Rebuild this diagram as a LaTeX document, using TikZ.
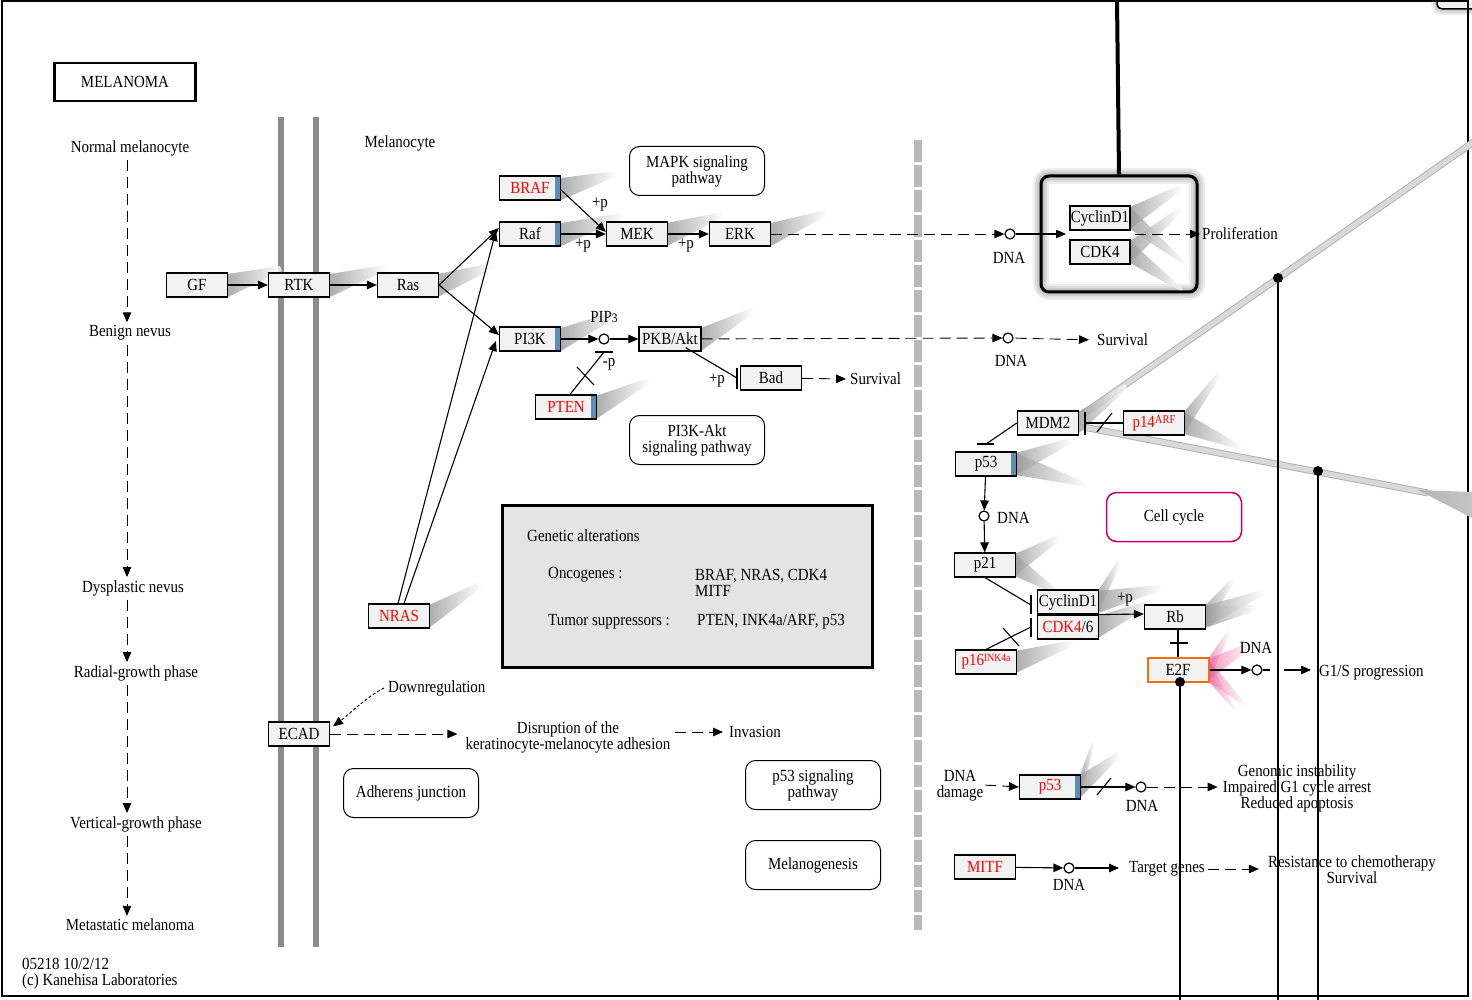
\documentclass[tikz,border=0pt]{standalone}
\usepackage{fontspec}
\setmainfont{Liberation Serif}[FakeStretch=0.88]
\usetikzlibrary{arrows.meta}
\definecolor{genefill}{HTML}{F2F2F2}
\definecolor{boxfill}{HTML}{E4E4E4}
\definecolor{kred}{HTML}{FF0000}
\definecolor{markblue}{HTML}{5B8DB8}
\definecolor{membr}{HTML}{8C8C8C}
\definecolor{cellmag}{HTML}{CC0066}
\definecolor{e2forange}{HTML}{F07010}
\definecolor{fanpink}{HTML}{E8559A}
% gradient wedges trailing from the right edge of a gene box
\newcommand{\kfan}[5]{\shade[left color=gray!80, right color=white, opacity=0.8] (#1,#2) -- (#4,#5) -- ({#4+2},{#5+5}) -- (#1,#3) -- cycle;}
\newcommand{\pfan}[5]{\shade[left color=fanpink, right color=white, opacity=0.6] (#1,#2) -- (#4,#5) -- ({#4+2},{#5+5}) -- (#1,#3) -- cycle;}
\newcommand{\bluemark}[1]{\fill[markblue] ([xshift=-6pt,yshift=-2pt]#1.north east) rectangle ([xshift=-1pt,yshift=2pt]#1.south east);}
\begin{document}
\begin{tikzpicture}[x=1pt,y=-1pt,
  every node/.style={font=\fontsize{17}{16}\selectfont, inner sep=0pt},
  gene/.style={draw=black, line width=1.2pt, fill=genefill, minimum width=61pt, minimum height=24pt},
  mapbox/.style={draw=black, line width=1pt, rounded corners=10pt, minimum width=135pt, minimum height=49pt, align=center},
  dnac/.style={circle, draw=black, line width=1.2pt, fill=white, minimum size=10pt},
  act/.style={line width=1.1pt, -{Triangle[length=10pt,width=8.5pt]}},
  dsh/.style={line width=0.9pt, dash pattern=on 11pt off 6pt},
  ln/.style={line width=1.1pt},
  hub/.style={line width=2.5pt},
]
\useasboundingbox (0,0) rectangle (1472,1000);
\fill[white] (0,0) rectangle (1472,1000);

% outer frame and the partial box in the corner
\foreach \w in {12,8,4} {\draw[line width=\w pt, black, opacity=0.08, rounded corners=5pt] (1437,-15) rectangle (1490,9);}
\draw[line width=1.5pt, rounded corners=5pt, fill=genefill] (1437,-15) rectangle (1490,9);
\draw[line width=1.5pt] (2,1) rectangle (1468,996);

% title
\node[draw, line width=2.5pt, minimum width=141pt, minimum height=38pt] (title) at (125,82) {MELANOMA};

% progression column
\coordinate (colx) at (127,0);
\node (nm) at (130,148) {Normal melanocyte};
\node (bn) at (130,333) {Benign nevus};
\node (dn) at (133,588) {Dysplastic nevus};
\node (rg) at (136,673) {Radial-growth phase};
\node (vg) at (136,824) {Vertical-growth phase};
\node (mm) at (130,925) {Metastatic melanoma};
\draw[act,dsh,shorten <=4pt,shorten >=3pt] (nm.south -| colx) -- (bn.north -| colx);
\draw[act,dsh,shorten <=4pt,shorten >=3pt] (bn.south -| colx) -- (dn.north -| colx);
\draw[act,dsh,shorten <=4pt,shorten >=3pt] (dn.south -| colx) -- (rg.north -| colx);
\draw[act,dsh,shorten <=4pt,shorten >=3pt] (rg.south -| colx) -- (vg.north -| colx);
\draw[act,dsh,shorten <=4pt,shorten >=3pt] (vg.south -| colx) -- (mm.north -| colx);
\node[anchor=west, align=left] (foot) at (22,974) {05218 10/2/12\\(c) Kanehisa Laboratories};

% membranes
\draw[line width=6pt, membr] (281,117) -- (281,947);
\draw[line width=6pt, membr] (316,117) -- (316,947);
\draw[line width=8pt, gray!55, dash pattern=on 22pt off 3pt] (918,140) -- (918,930);
\node (mel) at (400,143) {Melanocyte};

% grey crossing bands on the right
\draw[line width=7pt, gray!60] (1083,414) -- (1475,141);
\draw[line width=5pt, gray!30] (1083,414) -- (1475,141);
\draw[line width=7pt, gray!60] (1083,427) -- (1428,493);
\draw[line width=5pt, gray!30] (1083,427) -- (1428,493);
\shade[left color=gray!60, right color=gray!45] (1418,490) -- (1472,492) -- (1472,518) -- cycle;

% gradient wedges
\kfan{228}{274}{297}{280}{266}
\kfan{330}{274}{297}{385}{265}
\kfan{438}{274}{297}{492}{263}
\kfan{561}{178}{200}{615}{171}
\kfan{561}{223}{246}{622}{213}
\kfan{667}{223}{246}{722}{212}
\kfan{771}{223}{246}{826}{210}
\kfan{561}{328}{351}{616}{311}
\kfan{701}{328}{351}{752}{308}
\kfan{596}{396}{419}{648}{378}
\kfan{429}{605}{628}{480}{582}
\kfan{1078}{412}{434}{1125}{384}
\kfan{1184}{412}{434}{1218}{372}
\kfan{1184}{412}{434}{1240}{445}
\kfan{1016}{453}{475}{1070}{438}
\kfan{1016}{453}{475}{1085}{482}
\kfan{1015}{554}{576}{1058}{535}
\kfan{1015}{554}{576}{1060}{592}
\kfan{1098}{591}{613}{1118}{560}
\kfan{1098}{591}{613}{1160}{585}
\kfan{1098}{616}{638}{1150}{600}
\kfan{1016}{651}{673}{1072}{640}
\kfan{1205}{606}{628}{1232}{578}
\kfan{1205}{606}{628}{1262}{590}
\kfan{1205}{606}{628}{1255}{605}
\kfan{1080}{775}{798}{1092}{742}
\kfan{1080}{775}{798}{1118}{752}
\pfan{1208}{659}{681}{1228}{630}
\pfan{1208}{659}{681}{1250}{642}
\pfan{1208}{659}{681}{1245}{703}
\pfan{1208}{659}{681}{1235}{708}

% complex box with glow
\foreach \w in {16,12,8,5} {\draw[line width=\w pt, black, opacity=0.07, rounded corners=8pt] (1041,176) rectangle (1197,292);}
\begin{scope}[opacity=0.6]
\kfan{1130}{207}{229}{1180}{185}
\kfan{1130}{207}{229}{1185}{262}
\kfan{1130}{241}{263}{1180}{207}
\kfan{1130}{241}{263}{1182}{288}
\end{scope}
\node[draw, line width=3pt, rounded corners=8pt, minimum width=156pt, minimum height=116pt] (cbox) at (1119,234) {};

% genetic alterations panel
\node[draw, line width=3pt, fill=boxfill, minimum width=370pt, minimum height=162pt] (ga) at (687,586) {};
\node[anchor=west] (gat) at (527,536) {Genetic alterations};
\node[anchor=west] (onc) at (548,575) {Oncogenes :};
\node[anchor=west, align=left] (oncl) at (695,583) {BRAF, NRAS, CDK4\\MITF};
\node[anchor=west] (tsg) at (548,622) {Tumor suppressors :};
\node[anchor=west] (tsgl) at (697,622) {PTEN, INK4a/ARF, p53};

% map boxes
\node[mapbox] (mapk) at (697,171) {MAPK signaling\\pathway};
\node[mapbox] (pi3kmap) at (697,440) {PI3K-Akt\\signaling pathway};
\node[mapbox, draw=cellmag, line width=1.5pt] (ccmap) at (1174,517) {Cell cycle};
\node[mapbox] (adh) at (411,793) {Adherens junction};
\node[mapbox] (p53map) at (813,785) {p53 signaling\\pathway};
\node[mapbox] (melmap) at (813,865) {Melanogenesis};

% gene boxes
\node[gene] (GF) at (197,285) {GF};
\node[gene] (RTK) at (299,285) {RTK};
\node[gene] (Ras) at (408,285) {Ras};
\node[gene, text=kred] (BRAF) at (530,188) {BRAF};
\node[gene] (Raf) at (530,234) {Raf};
\node[gene] (MEK) at (637,234) {MEK};
\node[gene] (ERK) at (740,234) {ERK};
\node[gene] (PI3K) at (530,339) {PI3K};
\node[gene, minimum width=62pt] (PKB) at (670,339) {PKB/Akt};
\node[gene, text=kred] (PTEN) at (566,407) {PTEN};
\node[gene] (Bad) at (771,378) {Bad};
\node[gene, text=kred] (NRAS) at (399,616) {NRAS};
\node[gene] (ECAD) at (299,734) {ECAD};
\node[gene, minimum width=60pt] (CycA) at (1100,218) {CyclinD1};
\node[gene, minimum width=60pt] (CDKA) at (1100,252) {CDK4};
\node[gene] (MDM2) at (1048,423) {MDM2};
\node[gene, text=kred] (p14) at (1154,423) {p14\raisebox{4pt}{\fontsize{12}{12}\selectfont ARF}};
\node[gene] (p53a) at (986,464) {p53};
\node[gene] (p21) at (985,565) {p21};
\node[gene] (CycB) at (1068,602) {CyclinD1};
\node[gene] (CDKB) at (1068,627) {{\color{kred}CDK4}/6};
\node[gene, text=kred] (p16) at (986,662) {p16\raisebox{4pt}{\fontsize{11}{11}\selectfont INK4a}};
\node[gene] (Rb) at (1175,617) {Rb};
\node[gene, draw=e2forange, line width=2pt] (E2F) at (1178,670) {E2F};
\node[gene, text=kred] (p53b) at (1050,787) {p53};
\node[gene, text=kred] (MITF) at (985,867) {MITF};
\bluemark{BRAF}
\bluemark{Raf}
\bluemark{PI3K}
\bluemark{PTEN}
\bluemark{p53a}
\bluemark{p53b}

% small compounds (DNA and PIP3)
\node[dnac] (dnaA) at (1010,234) {};
\node[dnac] (dnaB) at (1008,338) {};
\node[dnac] (dnaC) at (984,516) {};
\node[dnac] (dnaD) at (1257,670) {};
\node[dnac] (dnaE) at (1141,787) {};
\node[dnac] (dnaF) at (1069,868) {};
\node[dnac] (pip) at (604,339) {};
\node (dnaAl) at (1009,258) {DNA};
\node (dnaBl) at (1011,361) {DNA};
\node[anchor=west] (dnaCl) at (997,518) {DNA};
\node (dnaDl) at (1256,648) {DNA};
\node (dnaEl) at (1142,806) {DNA};
\node (dnaFl) at (1069,885) {DNA};
\node (pipl) at (604,317) {PIP{\fontsize{13}{13}\selectfont 3}};

% phenotype labels
\node[anchor=west] (prolif) at (1202,234) {Proliferation};
\node[anchor=west] (surv1) at (850,379) {Survival};
\node[anchor=west] (surv2) at (1097,340) {Survival};
\node[anchor=west] (g1s) at (1319,673) {G1/S progression};
\node[align=center] (dmg) at (960,786) {DNA\\damage};
\node[align=center] (geno) at (1297,788) {Genomic instability\\Impaired G1 cycle arrest\\Reduced apoptosis};
\node[anchor=west] (target) at (1129,869) {Target genes};
\node[align=center] (resist) at (1352,870) {Resistance to chemotherapy\\Survival};
\node[anchor=west] (down) at (388,688) {Downregulation};
\node[align=center] (disr) at (568,737) {Disruption of the\\keratinocyte-melanocyte adhesion};
\node[anchor=west] (inv) at (729,732) {Invasion};

% phosphorylation labels
\node (p1) at (600,205) {+p};
\node (p2) at (583,246) {+p};
\node (p3) at (686,246) {+p};
\node (p4) at (717,381) {+p};
\node (p5) at (1125,600) {+p};
\node (m1) at (609,364) {-p};

% MAPK branch
\draw[act] (GF) -- (RTK);
\draw[act] (RTK) -- (Ras);
\draw[act] (Ras.east) -- ([yshift=6pt]Raf.west);
\draw[act] (Ras.east) -- ([yshift=4pt]PI3K.west);
\draw[act] ([xshift=-1pt]NRAS.north) -- ([xshift=-3pt,yshift=3pt]Raf.west);
\draw[act] ([xshift=5pt]NRAS.north) -- ([xshift=-3pt,yshift=-2pt]PI3K.west);
\draw[act] ([yshift=-2pt]BRAF.east) -- ([yshift=2pt]MEK.west);
\draw[act] (Raf) -- (MEK);
\draw[act] (MEK) -- (ERK);
\draw[act,dsh] (ERK) -- (dnaA);
\coordinate (cin) at (1066,234);
\coordinate (cout) at (1135,234);
\draw[act] (dnaA) -- (cin);
\draw[act,dsh,shorten >=2pt] (cout) -- (prolif.west);

% PI3K branch
\draw[act] (PI3K) -- (pip);
\draw[act] (pip) -- (PKB);
\coordinate (ptenbar) at (604,352);
\draw[ln] ([xshift=4pt]PTEN.north) -- (ptenbar);
\draw[ln] ([xshift=-9pt]ptenbar) -- ([xshift=9pt]ptenbar);
\draw[ln] (577,367) -- (594,385);
\draw[act,dsh] (PKB) -- (dnaB);
\draw[act,dsh,shorten <=2pt,shorten >=8pt] (dnaB) -- (surv2.west);
\coordinate (badbar) at (737,378);
\draw[ln] ([xshift=-16pt,yshift=4pt]PKB.south east) -- (badbar);
\draw[ln] ([yshift=10pt]badbar) -- ([yshift=-11pt]badbar);
\draw[act,dsh,shorten >=4pt] (Bad) -- (surv1.west);

% adhesion
\draw[act, line width=0.9pt, dash pattern=on 3pt off 2pt] ([xshift=-4pt]down.west) .. controls (365,698) and (352,712) .. ([xshift=3pt,yshift=-5pt]ECAD.north east);
\draw[act,dsh,shorten >=8pt] (ECAD.east) -- (ECAD.east -| disr.west);
\draw[act,dsh,shorten <=4pt,shorten >=6pt] (inv.west -| disr.east) -- (inv.west);

% p53 / cell cycle branch
\coordinate (p53bar) at (986,444);
\draw[ln] (MDM2.west) -- (p53bar);
\draw[ln] ([xshift=-9pt]p53bar) -- ([xshift=8pt]p53bar);
\coordinate (mdmbar) at (1085,423);
\draw[ln] (p14.west) -- (mdmbar);
\draw[ln] ([yshift=11pt]mdmbar) -- ([yshift=-12pt]mdmbar);
\draw[ln] (1097,432) -- (1112,413);
\draw[act] (p53a) -- (dnaC);
\draw[act] (dnaC) -- (p21);
\coordinate (cycbar) at (1031,605);
\draw[ln] (p21.south) -- (cycbar);
\draw[ln] ([yshift=10pt]cycbar) -- ([yshift=-9pt]cycbar);
\coordinate (cdkbar) at (1031,627);
\draw[ln] (p16.north) -- (cdkbar);
\draw[ln] ([yshift=9pt]cdkbar) -- ([yshift=-10pt]cdkbar);
\draw[ln] (1003,628) -- (1019,646);
\draw[act] (CycB.south east) -- ([yshift=3pt]Rb.west);
\draw[ln] (Rb.south -| E2F.north) -- (E2F.north);
\draw[ln] (1170,643) -- (1188,643);
\draw[act] (E2F) -- (dnaD);
\coordinate (g1a) at (1270,670);
\coordinate (g1b) at (1284,670);
\draw[ln] (dnaD) -- (g1a);
\draw[act,shorten >=8pt] (g1b) -- (g1s.west |- g1b);

% DNA damage and MITF
\draw[act,dsh,shorten <=2pt] ([yshift=1pt]dmg.east) -- (p53b.west);
\draw[act] (p53b) -- (dnaE);
\draw[ln] (1097,795) -- (1111,778);
\draw[act,dsh,shorten >=5pt] (dnaE) -- (geno.west |- dnaE);
\draw[act] (MITF) -- (dnaF);
\draw[act,shorten >=10pt] (dnaF) -- (target.west |- dnaF);
\draw[act,dsh,shorten <=3pt,shorten >=9pt] (target.east) -- (resist.west |- target.east);

% heavy connector lines
\coordinate (topend) at (1117,0);
\draw[line width=4pt] (topend) -- (cbox.north);
\coordinate (e2fdot) at (1180,682);
\coordinate (e2fend) at (1180,1000);
\coordinate (dot1) at (1278,278);
\coordinate (end1) at (1278,1000);
\coordinate (dot2) at (1318,471);
\coordinate (end2) at (1318,1000);
\draw[hub] (e2fdot) -- (e2fend);
\draw[hub] (dot1) -- (end1);
\draw[hub] (dot2) -- (end2);
\fill (e2fdot) circle (5);
\fill (dot1) circle (5);
\fill (dot2) circle (5);
\end{tikzpicture}
\end{document}
